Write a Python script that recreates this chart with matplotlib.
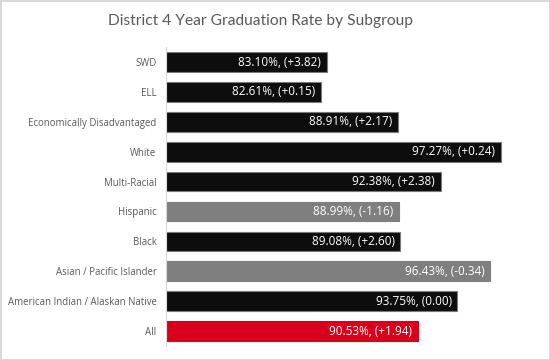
import matplotlib
matplotlib.use("Agg")
import matplotlib.pyplot as plt

# data, top row first
groups = ["SWD", "ELL", "Economically Disadvantaged", "White", "Multi-Racial",
          "Hispanic", "Black", "Asian / Pacific Islander",
          "American Indian / Alaskan Native", "All"]
rates = [83.10, 82.61, 88.91, 97.27, 92.38, 88.99, 89.08, 96.43, 93.75, 90.53]
changes = ["+3.82", "+0.15", "+2.17", "+0.24", "+2.38", "-1.16", "+2.60", "-0.34", "0.00", "+1.94"]
colors = ["#0d0d0d", "#0d0d0d", "#0d0d0d", "#0d0d0d", "#0d0d0d",
          "#7f7f7f", "#0d0d0d", "#7f7f7f", "#0d0d0d", "#d9001b"]

plt.rcParams["font.family"] = ["Open Sans", "DejaVu Sans"]

fig = plt.figure(figsize=(5.5, 3.6), dpi=100, linewidth=2, edgecolor="#d9d9d9")
ax = fig.add_axes([0.302, 0.039, 0.669, 0.83])

pos = list(range(len(groups)))
edges = ["#7a7a7a" if c == "#0d0d0d" else c for c in colors]
ax.barh(pos, [r - 70 for r in rates], left=70, height=0.66, color=colors,
        edgecolor=edges, linewidth=0.8)

for p, r, ch in zip(pos, rates, changes):
    ax.text(r - 0.45, p, f"{r:.2f}%, ({ch})", ha="right", va="center",
            color="white", fontsize=8.5)

ax.set_xlim(70, 100)
ax.set_ylim(len(groups) - 0.5, -0.5)
ax.set_yticks(pos)
ax.set_yticklabels(groups, fontsize=6.9, color="#595959")
ax.tick_params(axis="y", length=0, pad=7)
ax.set_xticks([])
for s in ["top", "right", "bottom"]:
    ax.spines[s].set_visible(False)
ax.spines["left"].set_color("#d9d9d9")

fig.text(0.474, 0.942, "District 4 Year Graduation Rate by Subgroup",
         ha="center", va="center", fontsize=11.2, color="#595959",
         family=["Lato", "DejaVu Sans"])

fig.savefig("out.png", dpi=100)
